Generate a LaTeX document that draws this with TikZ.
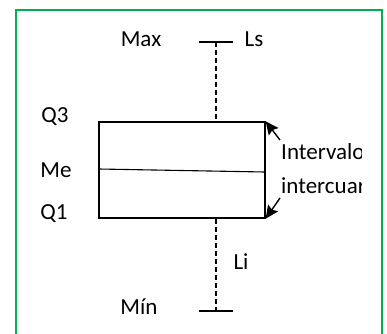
\documentclass[tikz,border=0pt]{standalone}
\usepackage{fontspec}
\setmainfont{Carlito}
\usetikzlibrary{arrows.meta}
\definecolor{frame}{RGB}{0,176,80}
\begin{document}
\begin{tikzpicture}[x=1pt,y=-1pt,
  lbl/.style={inner sep=0pt,font=\fontsize{23}{26}\selectfont},
  whisk/.style={line width=1.2pt,dash pattern=on 5pt off 3pt},
  capline/.style={line width=1.4pt},
  arr/.style={line width=1.4pt,-{Stealth[length=13pt,width=12pt,inset=2pt]}}]
\useasboundingbox (0,0) rectangle (387,333);
\begin{scope}
\clip (0,0) rectangle (387,333);
\draw[frame,line width=1.6pt] (16,10) rectangle (382,350);
\end{scope}
% box
\node[draw,line width=1.3pt,minimum width=166pt,minimum height=96pt,inner sep=0pt] (box) at (182,170) {};
\coordinate (medL) at (99,169);
\coordinate (medR) at (265,172);
\draw[line width=1.1pt] (medL) -- (medR);
% whiskers
\coordinate (topc) at (216,42);
\coordinate (botc) at (216,311);
\coordinate (capTL) at (199,42);
\coordinate (capTR) at (233,42);
\coordinate (capBL) at (199,311);
\coordinate (capBR) at (233,311);
\draw[capline] (capTL) -- (capTR);
\draw[capline] (capBL) -- (capBR);
\draw[whisk] (topc) -- (box.north -| topc);
\draw[whisk] (box.south -| botc) -- (botc);
% labels
\node[lbl] (max) at (141,39) {Max};
\node[lbl] (ls) at (254,39) {Ls};
\node[lbl] (q3) at (55,117) {Q3};
\node[lbl] (me) at (56,170) {Me};
\node[lbl] (q1) at (54,214) {Q1};
\node[lbl] (li) at (241,262) {Li};
\node[lbl] (min) at (139,307) {Mín};
% interval text clipped
\begin{scope}
\clip (270,125) rectangle (361,215);
\node[lbl,anchor=west] (int1) at (281,152) {Intervalo};
\node[lbl,anchor=west] (int2) at (281,186) {intercuartil};
\end{scope}
\coordinate (a1) at (280,140);
\coordinate (a2) at (280,198);
\draw[arr] (a1) -- (box.north east);
\draw[arr] (a2) -- (box.south east);
\end{tikzpicture}
\end{document}
